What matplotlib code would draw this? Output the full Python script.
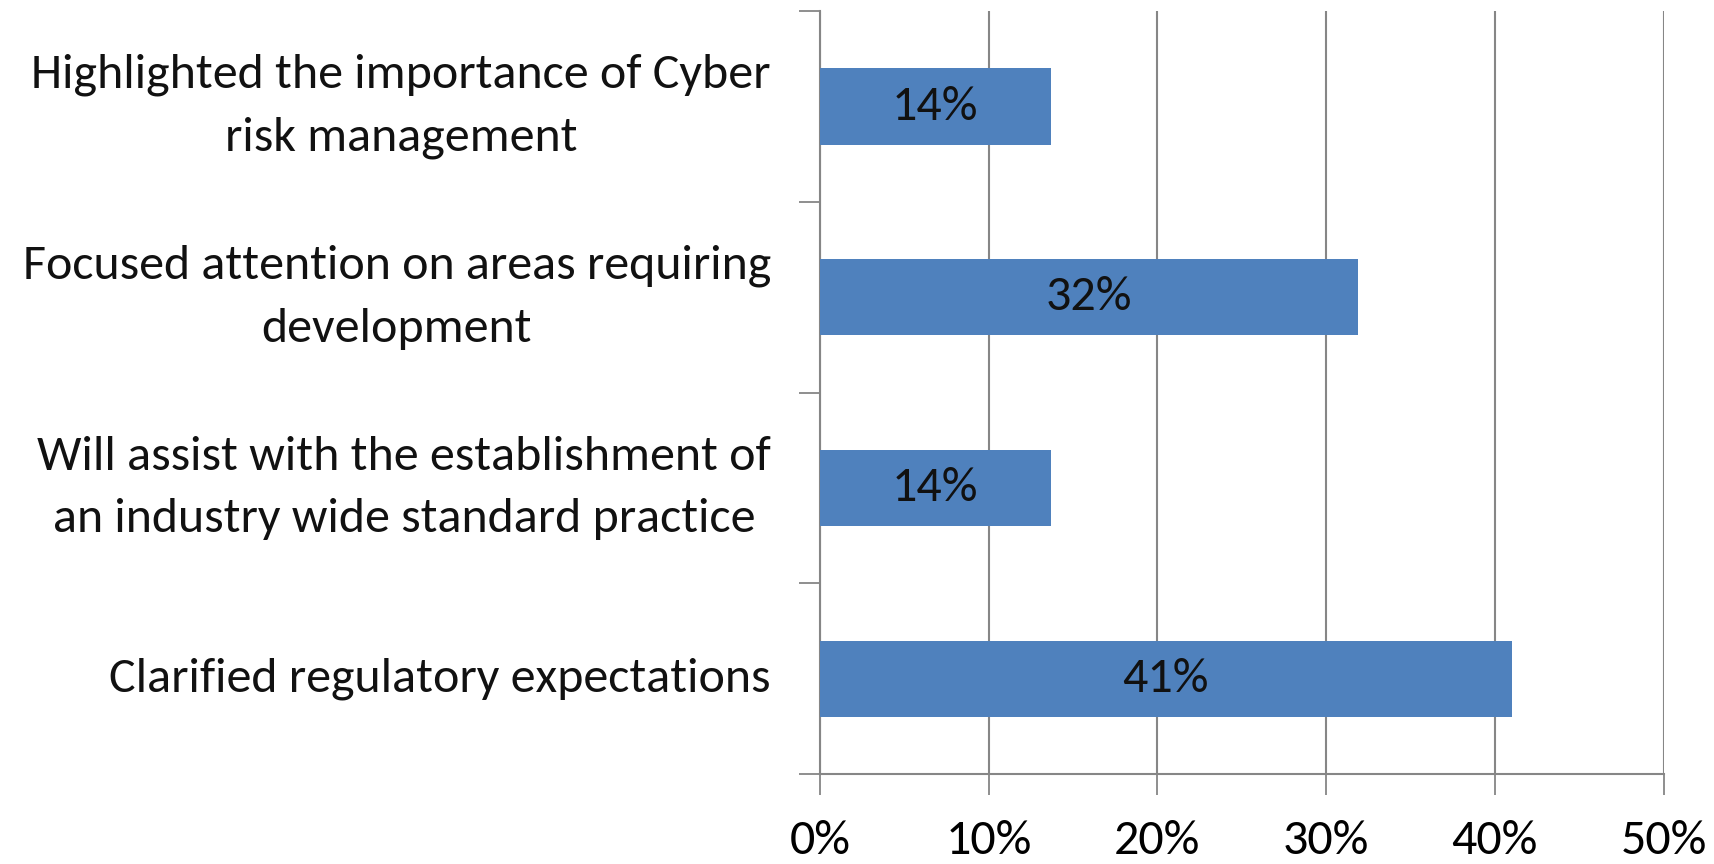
import matplotlib as mpl
import matplotlib.pyplot as plt
import numpy as np

mpl.rcParams['font.family'] = ['Carlito', 'Liberation Sans Narrow', 'Open Sans', 'DejaVu Sans']

categories = ['Highlighted the importance of Cyber\nrisk management',
              'Focused attention on areas requiring\ndevelopment',
              'Will assist with the establishment of\nan industry wide standard practice',
              'Clarified regulatory expectations']
values = [13.7, 31.9, 13.7, 41.0]
bar_labels = ['14%', '32%', '14%', '41%']
xticks = [0, 10, 20, 30, 40, 50]

grey = '#868686'
fs = 36

fig = plt.figure(figsize=(17.15, 8.64), dpi=100)
ax = fig.add_axes([0.478, 0.104, 0.492, 0.883])

y = np.arange(len(categories))
bars = ax.barh(y, values, height=0.4, color='#4F81BD', zorder=3)
for b, lab in zip(bars, bar_labels):
    ax.text(b.get_width() / 2, b.get_y() + b.get_height() / 2, lab,
            ha='center', va='center', fontsize=fs, color='#111111', zorder=4)

ax.set_xlim(0, 50)
ax.set_ylim(len(categories) - 0.5, -0.5)

ax.set_xticks(xticks)
ax.set_xticklabels([f'{t}%' for t in xticks], fontsize=fs)
ax.tick_params(axis='x', length=15, width=1.3, color=grey, pad=18)

# category boundaries as ticks, labels drawn as text at bar centres
ax.set_yticks(np.arange(len(categories) + 1) - 0.5)
ax.set_yticklabels([])
ax.tick_params(axis='y', length=15, width=1.3, color=grey)
for yi, cat in zip(y, categories):
    ax.text(-0.058, yi, cat, transform=ax.get_yaxis_transform(),
            ha='right', va='center', multialignment='center',
            fontsize=fs, linespacing=1.6, color='#111111')

ax.grid(axis='x', color=grey, linewidth=1.5, zorder=0)
for s in ['top', 'right']:
    ax.spines[s].set_visible(False)
for s in ['left', 'bottom']:
    ax.spines[s].set_color(grey)
    ax.spines[s].set_linewidth(1.5)

fig.savefig('out.png', dpi=100)
